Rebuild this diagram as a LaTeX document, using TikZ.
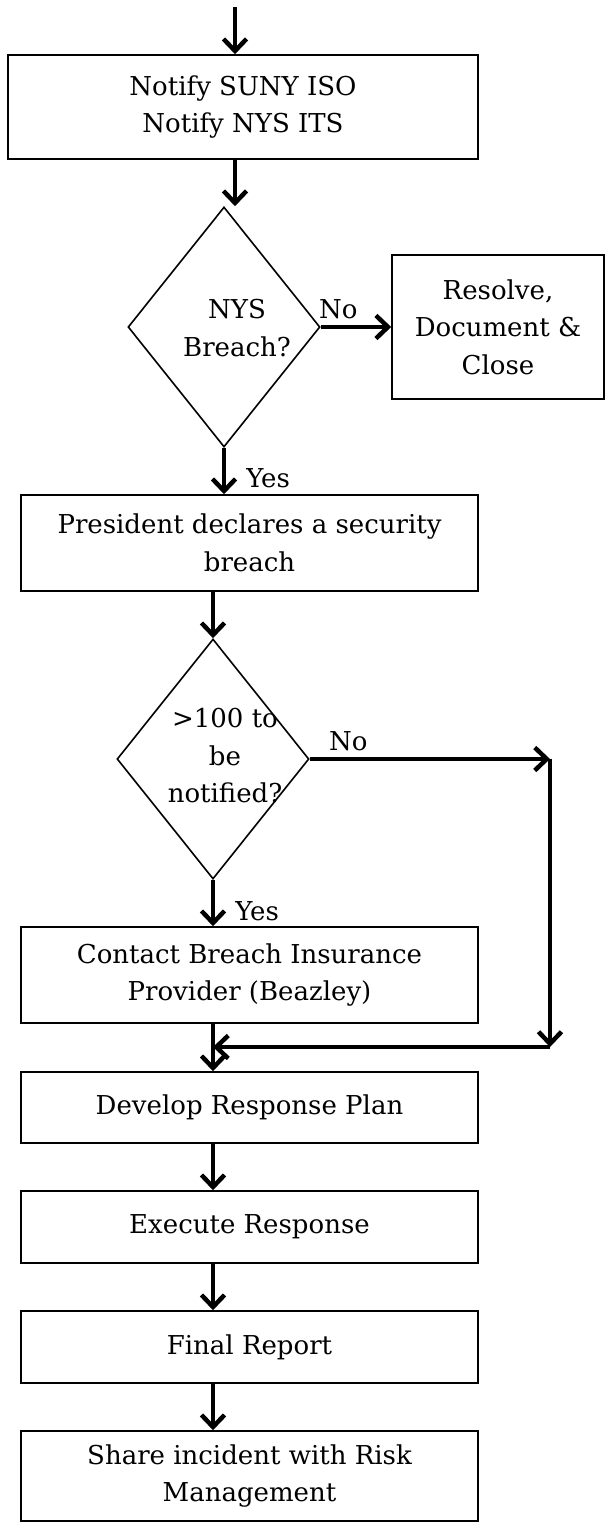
\documentclass[tikz,border=0pt]{standalone}
\usepackage{fontspec}
\setmainfont{DejaVu Serif}
\usetikzlibrary{arrows.meta}
\usetikzlibrary{shapes.geometric}
\usetikzlibrary{positioning}

\tikzset{
  stepbox/.style={draw, line width=1.6pt, rectangle, align=center, inner sep=0pt},
  decision/.style={draw, line width=1.6pt, diamond, minimum width=192pt, minimum height=240pt, inner sep=0pt},
  flow/.style={line width=4.5pt, -{Straight Barb[length=12pt,width=23pt]}},
  lbl/.style={inner sep=1pt},
}

\begin{document}
\begin{tikzpicture}[x=1pt, y=-1pt, every node/.style={font=\fontsize{26}{37.5}\selectfont}]
  \useasboundingbox (0,0) rectangle (605,1523);

  \node [stepbox, minimum width=470pt, minimum height=104pt] (notify) at (243,107) {Notify SUNY ISO\\Notify NYS ITS};

  % first decision
  \node [decision] (nys) at (224,327) {};
  \node [align=center] (nystext) at (237,328) {NYS\\Breach?};
  \node [stepbox, minimum width=212pt, minimum height=144pt] (resolve) at (498,327) {Resolve,\\Document \&\\Close};

  \node [stepbox, minimum width=457pt, minimum height=96pt] (president) at (249.5,543) {President declares a security\\breach};

  % second decision
  \node [decision] (hundred) at (213,759) {};
  \node [align=center] (hundredtext) at (225,756) {>100 to\\be\\notified?};

  \node [stepbox, minimum width=457pt, minimum height=96pt] (contact) at (249.5,975) {Contact Breach Insurance\\Provider (Beazley)};
  \node [stepbox, minimum width=457pt, minimum height=71pt] (develop) at (249.5,1107.5) {Develop Response Plan};
  \node [stepbox, minimum width=457pt, minimum height=72pt] (execute) at (249.5,1227) {Execute Response};
  \node [stepbox, minimum width=457pt, minimum height=72pt] (final) at (249.5,1347) {Final Report};
  \node [stepbox, minimum width=457pt, minimum height=90pt] (share) at (249.5,1476) {Share incident with Risk\\Management};

  \coordinate (entry) at (235,7);
  \coordinate (bypass) at (550,759);
  \coordinate (bypassend) at (550,1047);
  \coordinate (merge) at (213,1047);

  \draw [flow] (entry) -- (entry |- notify.north);
  \draw [flow] (notify.south -| entry) -- (nys.north -| entry);
  \draw [flow] (nys.east) -- node [lbl, pos=0.25, above=5pt] (no1) {No} (resolve.west);
  \draw [flow] (nys.south) -- node [lbl, pos=0.65, right=19pt] (yes1) {Yes} (nys.south |- president.north);
  \draw [flow] (president.south -| hundred.north) -- (hundred.north);

  % no: around the insurer
  \draw [flow] (hundred.east) -- node [lbl, pos=0.16, above=5pt] (no2) {No} (bypass);
  \draw [flow] (bypass) -- (bypassend);
  \draw [flow] (bypassend) -- (merge);

  \draw [flow] (hundred.south) -- node [lbl, pos=0.67, right=19pt] (yes2) {Yes} (hundred.south |- contact.north);

  \foreach \a/\b in {contact/develop, develop/execute, execute/final, final/share} {
    \draw [flow] (\a.south -| hundred.south) -- (\b.north -| hundred.south);
  }

\end{tikzpicture}
\end{document}
